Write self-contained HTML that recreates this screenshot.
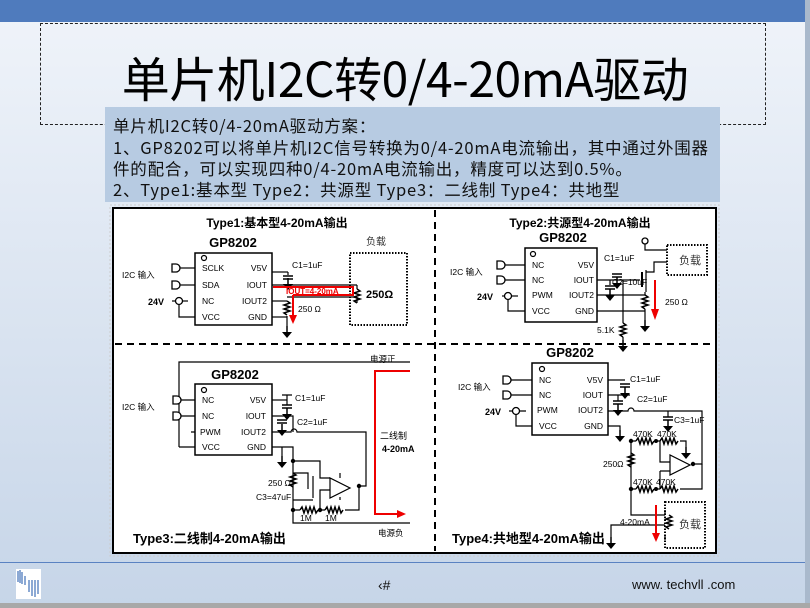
<!DOCTYPE html>
<html><head><meta charset="utf-8"><style>
body{margin:0;width:810px;height:608px;overflow:hidden;position:relative;font-family:"Liberation Sans","Noto Sans CJK SC",sans-serif;background:linear-gradient(#f0f4fa,#c6d5e8);}
.bar{position:absolute;left:0;top:0;width:810px;height:22px;background:#4f7bbd}
.tb{position:absolute;left:40px;top:23px;width:726px;height:102px;border:1px dashed #222;box-sizing:border-box}
.title{position:absolute;left:0;width:810px;top:41px;text-align:center;font-size:48px;font-family:"Noto Sans CJK SC",sans-serif;color:#000;letter-spacing:-0.5px}
.box{position:absolute;left:105px;top:107px;width:615px;height:95px;background:#b7cbe2}
.box div{position:absolute;left:8px;font-size:16.5px;font-family:"Noto Sans CJK SC",sans-serif;color:#111;white-space:nowrap;letter-spacing:0.8px}
.foot{position:absolute;left:0;top:562px;width:805px;height:1px;background:#5a82c2}
.gr{position:absolute;left:0;top:603px;width:810px;height:5px;background:#a8a8a8}
.gr2{position:absolute;left:805px;top:0;width:5px;height:608px;background:#a9b9cc}
svg text{font-family:"Liberation Sans","Noto Sans CJK SC",sans-serif}
</style></head><body>
<div class="bar"></div>
<div class="gr2"></div>
<div class="tb"></div>
<div class="title">单片机I2C转0/4-20mA驱动</div>
<div class="box">
<div style="top:6px">单片机I2C转0/4-20mA驱动方案：</div>
<div style="top:28px">1、GP8202可以将单片机I2C信号转换为0/4-20mA电流输出，其中通过外围器</div>
<div style="top:49px">件的配合，可以实现四种0/4-20mA电流输出，精度可以达到0.5%。</div>
<div style="top:70px">2、Type1:基本型  Type2：共源型  Type3：二线制  Type4：共地型</div>
</div>
<svg style="position:absolute;left:0;top:0" width="810" height="608" viewBox="0 0 810 608">
<defs>
<g id="gnd"><line x1="0" y1="0" x2="0" y2="6" stroke="#000" stroke-width="1.5"/><path d="M-5 6 L5 6 L0 12Z" fill="#000"/></g>
<g id="cap"><line x1="-5" y1="0" x2="5" y2="0" stroke="#000" stroke-width="1.5"/><line x1="-5" y1="3" x2="5" y2="3" stroke="#000" stroke-width="1.5"/></g>
<path id="rv" d="M0 0 l3 2 l-6 2 l6 2 l-6 2 l6 2 l-6 2 l3 2" fill="none" stroke="#000" stroke-width="1.5"/>
<path id="rh" d="M0 0 l2 -3 l2 6 l2 -6 l2 6 l2 -6 l2 6 l2 -6 l2 6 l2 -3" fill="none" stroke="#000" stroke-width="1.5"/>
<g id="conn"><path d="M0 -4 h4 a4 4 0 0 1 0 8 h-4z" fill="#fff" stroke="#000" stroke-width="1.3"/></g>
</defs>
<rect x="113" y="208" width="603" height="345" fill="#fff" stroke="#000" stroke-width="2"/>
<rect x="110" y="205" width="609" height="351" fill="none" stroke="#ccc" stroke-dasharray="2 2"/>
<line x1="435" y1="210" x2="435" y2="551" stroke="#000" stroke-width="2" stroke-dasharray="7 5"/>
<line x1="115" y1="344" x2="714" y2="344" stroke="#000" stroke-width="2" stroke-dasharray="7 5"/>
<g stroke="#000" stroke-width="1.2" fill="none">
<rect x="195" y="253" width="77" height="72" stroke-width="1.5"/>
<circle cx="204" cy="258" r="2.5"/>
<line x1="179" y1="268" x2="195" y2="268"/><line x1="179" y1="285" x2="195" y2="285"/>
<line x1="172" y1="301" x2="188" y2="301"/><path d="M179 301 V317 H195"/>
<line x1="272" y1="272" x2="288" y2="272"/><line x1="288" y1="272" x2="288" y2="275"/>
<line x1="272" y1="285" x2="357" y2="285"/><line x1="272" y1="301" x2="287" y2="301"/>
<line x1="272" y1="317" x2="287" y2="317"/><line x1="287" y1="316" x2="287" y2="326"/>
<line x1="357" y1="285" x2="357" y2="289"/><line x1="357" y1="303" x2="357" y2="297"/><line x1="287" y1="297" x2="357" y2="297"/>
<rect x="350" y="253" width="57" height="72" stroke-dasharray="1.5 1.5" stroke-width="2"/>
<rect x="525" y="248" width="72" height="74" stroke-width="1.5"/>
<circle cx="533" cy="254" r="2.5"/>
<line x1="504" y1="265" x2="525" y2="265"/><line x1="504" y1="280" x2="525" y2="280"/>
<line x1="502" y1="296" x2="518" y2="296"/><path d="M508 296 V311 H525"/>
<line x1="597" y1="280" x2="640" y2="280"/><line x1="597" y1="295" x2="645" y2="295"/><line x1="597" y1="311" x2="645" y2="311"/>
<line x1="623" y1="280" x2="623" y2="320"/><line x1="610" y1="280" x2="610" y2="285"/>
<line x1="642" y1="272" x2="642" y2="287" stroke-width="2"/>
<path d="M646 270 V290 M646 272 H654 V264 M646 288 H646 V292"/>
<path d="M654 264 V262 H667"/><path d="M645 243 V250 H667"/>
<line x1="645" y1="292" x2="645" y2="295"/><line x1="645" y1="309" x2="645" y2="320"/>
<line x1="623" y1="320" x2="623" y2="323"/><line x1="623" y1="337" x2="623" y2="340"/>
<rect x="667" y="245" width="40" height="30" stroke-dasharray="1.5 1.5" stroke-width="2"/>
<rect x="195" y="384" width="77" height="71" stroke-width="1.5"/>
<circle cx="204" cy="390" r="2.5"/>
<path d="M180 400 H195 M180 416 H195 M191 432 H195 M179 447 H195 M179 447 V362 H410"/>
<line x1="272" y1="400" x2="287" y2="400"/><path d="M282 395 H292 M287 395 V405"/>
<path d="M272 416 H293 V432 M272 432 H291 a3 3 0 0 1 6 0 H366 V486 H359"/>
<path d="M272 447 H293 V523 H410 M282 447 V456"/>
<path d="M293 461 H320 V478 H330 M293 473 H308 V489 M313 476 V498 M293 500 H313"/>
<path d="M293 510 H300 M320 510 H325 M345 510 H359 V486 M320 510 V490 H330"/>
<path d="M330 478 L330 498 L350 488Z"/><path d="M340 478 V473 M340 497 V500"/>
<rect x="532" y="363" width="76" height="72" stroke-width="1.5"/>
<circle cx="542" cy="369" r="2.5"/>
<path d="M511 380 H532 M511 395 H532 M509 411 H526 M516 411 V426 H532"/>
<path d="M608 380 H625 M608 395 H630 M618 395 V401 M608 411 H628 a3 3 0 0 1 6 0 H702 V464 H693"/>
<path d="M608 426 H620 V430 M668 411 V417"/>
<path d="M631 441 V515 H665 M631 441 H636 M656 441 H660 M680 441 H686 V447 M660 441 V462 H670"/>
<path d="M631 489 H636 M656 489 H660 M680 489 H702 V464 M660 471 H670 M660 471 V489"/>
<path d="M670 455 L670 475 L690 465Z"/>
<path d="M665 525 H611 V537 M665 515 V510 M665 535 V540"/>
<rect x="665" y="502" width="40" height="46" stroke-dasharray="1.5 1.5" stroke-width="2"/>
</g>
<use href="#rv" x="287" y="301"/><use href="#rv" x="357" y="289"/>
<use href="#rv" x="645" y="295"/><use href="#rv" x="623" y="323"/>
<use href="#rv" x="293" y="473"/><use href="#rh" x="300" y="510"/><use href="#rh" x="325" y="510"/>
<use href="#rv" x="631" y="453"/>
<use href="#rh" x="636" y="441"/><use href="#rh" x="660" y="441"/><use href="#rh" x="636" y="489"/><use href="#rh" x="660" y="489"/>
<use href="#rv" x="669" y="515"/>
<use href="#cap" x="288" y="276"/><use href="#gnd" x="288" y="278"/>
<use href="#gnd" x="287" y="326"/>
<use href="#cap" x="617" y="274"/><use href="#gnd" x="617" y="277"/>
<use href="#cap" x="610" y="286"/><use href="#gnd" x="610" y="289"/>
<use href="#gnd" x="645" y="320"/><use href="#gnd" x="623" y="340"/>
<use href="#cap" x="287" y="405"/><use href="#gnd" x="287" y="408"/>
<use href="#cap" x="282" y="420"/><use href="#gnd" x="282" y="424"/>
<use href="#gnd" x="282" y="456"/>
<use href="#cap" x="625" y="384"/><use href="#gnd" x="625" y="387"/>
<use href="#cap" x="618" y="401"/><use href="#gnd" x="618" y="404"/>
<use href="#cap" x="668" y="417"/><use href="#gnd" x="668" y="420"/>
<use href="#gnd" x="620" y="430"/><use href="#gnd" x="686" y="447"/><use href="#gnd" x="611" y="537"/>
<use href="#conn" x="172" y="268"/><use href="#conn" x="172" y="285"/>
<use href="#conn" x="497" y="265"/><use href="#conn" x="497" y="280"/>
<use href="#conn" x="173" y="400"/><use href="#conn" x="173" y="416"/>
<use href="#conn" x="503" y="380"/><use href="#conn" x="503" y="395"/>
<circle cx="179" cy="301" r="3.5" fill="#fff" stroke="#000" stroke-width="1.3"/>
<circle cx="508" cy="296" r="3.5" fill="#fff" stroke="#000" stroke-width="1.3"/>
<circle cx="516" cy="411" r="3.5" fill="#fff" stroke="#000" stroke-width="1.3"/>
<circle cx="645" cy="241" r="3" fill="#fff" stroke="#000" stroke-width="1.3"/>
<g fill="#000"><circle cx="293" cy="461" r="2.2"/><circle cx="293" cy="510" r="2.2"/><circle cx="320" cy="510" r="2.2"/><circle cx="359" cy="486" r="2.2"/><circle cx="631" cy="441" r="2.2"/><circle cx="631" cy="489" r="2.2"/><circle cx="656" cy="441" r="2"/><circle cx="693" cy="464" r="2.2"/><circle cx="656" cy="489" r="2"/></g>
<g stroke="#e00" stroke-width="2" fill="none">
<path d="M273 287 H353 V295 H293"/>
<line x1="293" y1="295" x2="293" y2="316"/>
<line x1="655" y1="280" x2="655" y2="310"/>
<path d="M410 371 H375 V514 H398"/>
<line x1="656" y1="505" x2="656" y2="535"/>
</g>
<g fill="#e00"><path d="M289 315 h8 l-4 9z"/><path d="M651 309 h8 l-4 11z"/><path d="M397 510 v8 l9 -4z"/><path d="M652 533 h8 l-4 9z"/></g>
<g font-size="8.5" fill="#000">
<text x="202" y="271">SCLK</text><text x="202" y="288">SDA</text><text x="202" y="304">NC</text><text x="202" y="320">VCC</text>
<text x="267" y="271" text-anchor="end">V5V</text><text x="267" y="288" text-anchor="end">IOUT</text><text x="267" y="304" text-anchor="end">IOUT2</text><text x="267" y="320" text-anchor="end">GND</text>
<text x="532" y="268">NC</text><text x="532" y="283">NC</text><text x="532" y="298">PWM</text><text x="532" y="314">VCC</text>
<text x="594" y="268" text-anchor="end">V5V</text><text x="594" y="283" text-anchor="end">IOUT</text><text x="594" y="298" text-anchor="end">IOUT2</text><text x="594" y="314" text-anchor="end">GND</text>
<text x="202" y="403">NC</text><text x="202" y="419">NC</text><text x="200" y="435">PWM</text><text x="202" y="450">VCC</text>
<text x="266" y="403" text-anchor="end">V5V</text><text x="266" y="419" text-anchor="end">IOUT</text><text x="266" y="435" text-anchor="end">IOUT2</text><text x="266" y="450" text-anchor="end">GND</text>
<text x="539" y="383">NC</text><text x="539" y="398">NC</text><text x="537" y="413">PWM</text><text x="539" y="429">VCC</text>
<text x="603" y="383" text-anchor="end">V5V</text><text x="603" y="398" text-anchor="end">IOUT</text><text x="603" y="413" text-anchor="end">IOUT2</text><text x="603" y="429" text-anchor="end">GND</text>
<text x="122" y="278">I2C 输入</text><text x="450" y="275">I2C 输入</text><text x="122" y="410">I2C 输入</text><text x="458" y="390">I2C 输入</text>
<text x="292" y="268">C1=1uF</text><text x="604" y="261">C1=1uF</text><text x="612" y="285">C2=10uF</text>
<text x="298" y="312">250 Ω</text><text x="665" y="305">250 Ω</text><text x="597" y="333">5.1K</text>
<text x="295" y="401">C1=1uF</text><text x="297" y="425">C2=1uF</text><text x="268" y="486">250 Ω</text><text x="256" y="500">C3=47uF</text>
<text x="300" y="521">1M</text><text x="325" y="521">1M</text>
<text x="630" y="382">C1=1uF</text><text x="637" y="402">C2=1uF</text><text x="674" y="423">C3=1uF</text>
<text x="633" y="437">470K</text><text x="657" y="437">470K</text><text x="633" y="485">470K</text><text x="656" y="485">470K</text>
<text x="603" y="467">250Ω</text><text x="620" y="525">4-20mA</text>
<text x="370" y="362" font-size="8.5">电源正</text><text x="378" y="536" font-size="8.5">电源负</text>
</g>
<g font-size="9" font-weight="bold" fill="#000">
<text x="148" y="305">24V</text><text x="477" y="300">24V</text><text x="485" y="415">24V</text>
<text x="382" y="452">4-20mA</text>
</g>
<text x="380" y="439" font-size="9">二线制</text>
<text x="286" y="294" font-size="8" fill="#e00" font-weight="bold">IOUT=4-20mA</text>
<text x="366" y="298" font-size="11" font-weight="bold">250Ω</text>
<text x="366" y="245" font-size="10" fill="#333">负载</text>
<text x="679" y="264" font-size="11" fill="#333">负载</text>
<text x="679" y="528" font-size="11" fill="#333">负载</text>
<g font-weight="bold" fill="#000">
<text x="277" y="227" font-size="12" text-anchor="middle">Type1:基本型4-20mA输出</text>
<text x="580" y="227" font-size="12" text-anchor="middle">Type2:共源型4-20mA输出</text>
<text x="233" y="247" font-size="13" text-anchor="middle">GP8202</text>
<text x="563" y="242" font-size="13" text-anchor="middle">GP8202</text>
<text x="235" y="379" font-size="13" text-anchor="middle">GP8202</text>
<text x="570" y="357" font-size="13" text-anchor="middle">GP8202</text>
<text x="133" y="543" font-size="13">Type3:二线制4-20mA输出</text>
<text x="452" y="543" font-size="13">Type4:共地型4-20mA输出</text>
</g>
<rect x="16" y="569" width="25" height="30" fill="#fff"/>
<g stroke="#4f7bbd" stroke-width="1.3"><line x1="18" y1="571" x2="18" y2="582"/><line x1="20" y1="570" x2="20" y2="583"/><line x1="22" y1="572" x2="22" y2="584"/><line x1="25" y1="576" x2="25" y2="585"/><line x1="29" y1="580" x2="29" y2="592"/><line x1="32" y1="580" x2="32" y2="596"/><line x1="35" y1="580" x2="35" y2="597"/><line x1="38" y1="580" x2="38" y2="594"/></g>
<text x="378" y="590" font-size="14" fill="#111">‹#</text>
<text x="632" y="589" font-size="13" fill="#111">www. techvll .com</text>
</svg>
<div class="foot"></div>
<div class="gr"></div>
</body></html>
